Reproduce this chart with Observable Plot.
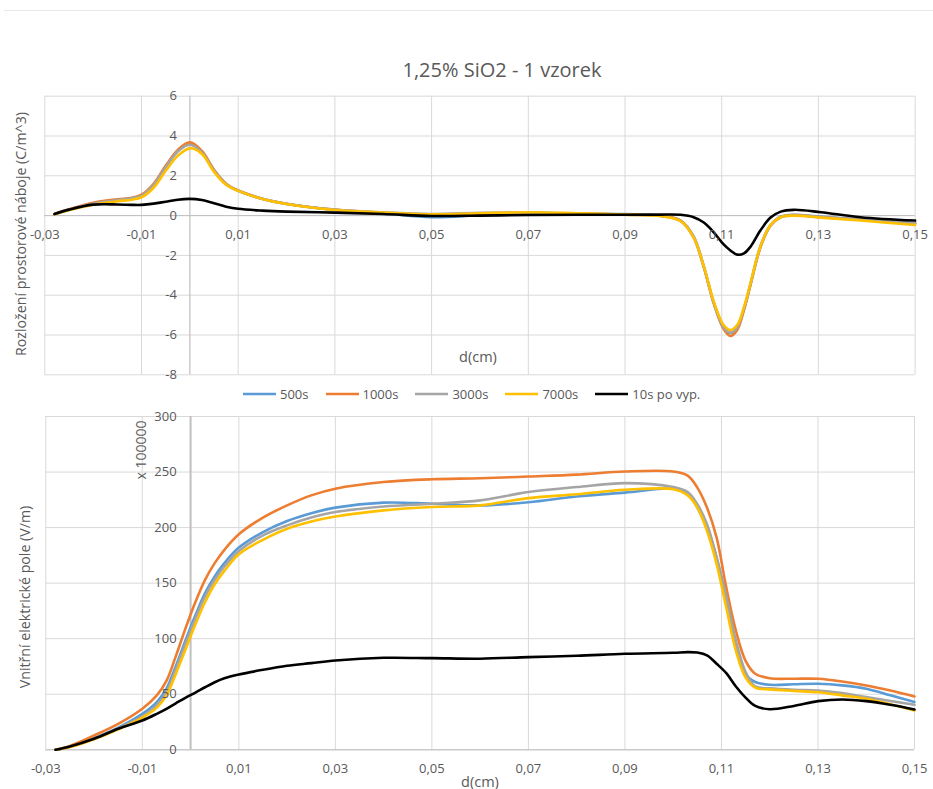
<!DOCTYPE html>
<html><head><meta charset="utf-8">
<script src="https://cdn.jsdelivr.net/npm/d3@7"></script>
<script src="https://cdn.jsdelivr.net/npm/@observablehq/plot@0.6"></script>
<style>
body{margin:0;background:#fff;font-family:"Open Sans",sans-serif;color:#595959}
#wrap{position:relative;width:933px;height:789px;overflow:hidden;background:#fff}
.abs{position:absolute;white-space:nowrap}
.c{transform:translate(-50%,-50%)}
.rot{transform:translate(-50%,-50%) rotate(-90deg)}
#legend{position:absolute;left:243px;top:385px;height:18px;display:flex;align-items:center;gap:17px;font-size:13px}
#legend .it{display:flex;align-items:center}
#legend svg{margin-right:4px}
#topline{position:absolute;left:4px;right:0;top:10px;height:1px;background:#e8e8e8}
</style></head><body><div id="wrap">
<div id="topline"></div>
<div class="abs c" style="left:502px;top:69px;font-size:20px">1,25% SiO2 - 1 vzorek</div>
<div id="chartTop" class="abs" style="left:0;top:90px"></div>
<div id="chartBot" class="abs" style="left:0;top:405px"></div>
<div class="abs rot" style="left:20px;top:234px;font-size:14.2px">Rozložení prostorové náboje (C/m^3)</div>
<div class="abs c" style="left:478px;top:356px;font-size:14.5px">d(cm)</div>
<div class="abs rot" style="left:24px;top:597px;font-size:14.2px">Vnitřní elektrické pole (V/m)</div>
<div class="abs rot" style="left:140px;top:450px;font-size:14px">x 100000</div>
<div class="abs c" style="left:480px;top:781px;font-size:14.5px">d(cm)</div>
<div id="legend"></div>
</div>
<script>
// ---- series ----
const seriesNames = ["500s", "1000s", "3000s", "7000s", "10s po vyp."];
const seriesColors = ["#5B9BD5", "#ED7D31", "#A5A5A5", "#FFC000", "#000000"];

// ---- top chart: space charge (C/m^3) ----
const xTop = [-0.028, -0.025, -0.02, -0.015, -0.012, -0.01, -0.0075, -0.005, -0.0025, 0, 0.0025, 0.005, 0.0075, 0.01, 0.015, 0.02, 0.03, 0.04, 0.05, 0.06, 0.07, 0.08, 0.09, 0.0973, 0.1015, 0.1042, 0.1063, 0.1084, 0.1104, 0.1118, 0.1132, 0.1146, 0.116, 0.118, 0.1201, 0.1222, 0.1249, 0.1305, 0.1387, 0.15];
const top500  = [0.08, 0.3, 0.62, 0.78, 0.87, 1.0, 1.55, 2.45, 3.25, 3.6, 3.2, 2.28, 1.58, 1.25, 0.84, 0.58, 0.28, 0.12, -0.08, 0.02, 0.12, 0.1, 0.08, 0.0, -0.25, -1.05, -2.55, -4.4, -5.62, -5.9, -5.65, -4.7, -3.4, -1.55, -0.48, -0.06, 0.04, -0.06, -0.18, -0.38];
const top1000 = [0.08, 0.32, 0.65, 0.82, 0.9, 1.05, 1.6, 2.5, 3.3, 3.68, 3.25, 2.3, 1.6, 1.26, 0.85, 0.6, 0.3, 0.15, 0.05, 0.1, 0.14, 0.1, 0.05, 0.0, -0.25, -1.1, -2.6, -4.45, -5.7, -6.05, -5.75, -4.75, -3.45, -1.6, -0.5, -0.08, 0.03, -0.08, -0.2, -0.4];
const top3000 = [0.08, 0.3, 0.6, 0.78, 0.87, 1.0, 1.55, 2.42, 3.22, 3.56, 3.18, 2.27, 1.58, 1.25, 0.85, 0.6, 0.3, 0.16, 0.08, 0.14, 0.15, 0.1, 0.04, -0.02, -0.27, -1.1, -2.58, -4.42, -5.62, -5.88, -5.62, -4.68, -3.4, -1.58, -0.5, -0.08, 0.02, -0.08, -0.2, -0.4];
const top7000 = [0.07, 0.27, 0.55, 0.72, 0.8, 0.92, 1.4, 2.25, 3.0, 3.38, 3.1, 2.2, 1.55, 1.24, 0.84, 0.58, 0.28, 0.15, 0.06, 0.12, 0.17, 0.12, 0.05, -0.02, -0.28, -1.1, -2.55, -4.35, -5.5, -5.75, -5.5, -4.6, -3.35, -1.55, -0.48, -0.08, 0.0, -0.1, -0.25, -0.47];
const top10s  = [0.08, 0.3, 0.55, 0.56, 0.54, 0.54, 0.6, 0.7, 0.8, 0.84, 0.78, 0.62, 0.45, 0.34, 0.25, 0.2, 0.15, 0.08, -0.02, 0.0, 0.03, 0.04, 0.04, 0.05, 0.04, -0.08, -0.35, -0.85, -1.45, -1.75, -1.96, -1.9, -1.55, -0.75, -0.1, 0.2, 0.29, 0.17, -0.08, -0.25];
const topTicksX = [-0.03, -0.01, 0.01, 0.03, 0.05, 0.07, 0.09, 0.11, 0.13, 0.15];
const topTicksY = [-8, -6, -4, -2, 0, 2, 4, 6];

// ---- bottom chart: electric field (V/m, x 100000) ----
const xBot = [-0.028, -0.025, -0.02, -0.015, -0.01, -0.007, -0.005, -0.003, -0.001, 0.001, 0.003, 0.005, 0.007, 0.01, 0.015, 0.02, 0.025, 0.03, 0.04, 0.05, 0.06, 0.07, 0.08, 0.09, 0.1, 0.103, 0.105, 0.107, 0.109, 0.111, 0.113, 0.115, 0.117, 0.12, 0.125, 0.13, 0.135, 0.14, 0.145, 0.15];
const bot500  = [0, 3, 10.5, 20, 32.4, 43, 55, 76, 99, 121, 141, 156, 168, 182, 196, 206, 213, 218, 222.5, 221.5, 220, 222.8, 228, 231.5, 235, 231, 218, 200, 173, 134, 95, 68, 61, 58.5, 59, 59.4, 58, 55, 49, 43];
const bot1000 = [0, 3.5, 12.9, 23.4, 37, 49, 62, 85, 110, 133, 153, 168, 180, 194, 209, 220, 229, 235, 241, 243.5, 244.4, 246, 247.7, 250.5, 250.5, 246.8, 236, 218, 191, 146, 107, 80, 68.4, 64.4, 64, 63.9, 61.5, 57.9, 53.3, 48];
const bot3000 = [0, 2.8, 10, 19, 30, 40, 52, 73, 96, 118, 138, 153, 165, 179, 193, 202, 209, 214, 219, 221.5, 224.5, 232, 236.5, 240, 236.5, 232, 221, 203, 173, 138, 98, 70, 57, 55.3, 54, 53.4, 51, 47.4, 44, 40.5];
const bot7000 = [0, 2.5, 9.5, 18.5, 29, 38, 49, 69, 91, 113, 133, 149, 161, 176, 189, 199, 205.5, 210, 215.5, 218.5, 220, 226.5, 230, 234, 234.5, 229, 218, 197, 167, 128, 89, 65, 56, 54.4, 53, 51.8, 49, 46, 41, 35.4];
const bot10s  = [0, 3, 9.9, 18.9, 26.4, 32.4, 36.9, 42, 47, 51.5, 56.3, 60.8, 64.4, 67.8, 72, 75.6, 78, 80.4, 82.8, 82.5, 82, 83.4, 84.6, 86.4, 87.3, 87.9, 87.5, 85, 77.5, 69, 57, 47, 39.5, 36.5, 39.5, 43.8, 45.3, 43.8, 40.5, 36.3];
const botTicksX = [-0.03, -0.01, 0.01, 0.03, 0.05, 0.07, 0.09, 0.11, 0.13, 0.15];
const botTicksY = [0, 50, 100, 150, 200, 250, 300];

function tidy(xs, arrays) {
  const out = [];
  arrays.forEach((arr, i) => arr.forEach((v, j) => out.push({x: xs[j], y: v, s: seriesNames[i]})));
  return out;
}
const topData = tidy(xTop, [top500, top1000, top3000, top7000, top10s]);
const botData = tidy(xBot, [bot500, bot1000, bot3000, bot7000, bot10s]);
const fmtX = d => d.toFixed(2).replace(".", ",");
const grid = "#d9d9d9", axisC = "#bfbfbf", txt = "#595959";

function chart(data, ticksX, ticksY, opts) {
  return Plot.plot({
    width: 933, height: opts.height,
    marginTop: opts.mt, marginBottom: opts.mb, marginLeft: opts.ml, marginRight: opts.mr,
    x: {domain: [-0.03, 0.15], axis: null},
    y: {domain: opts.yDomain, axis: null},
    color: {domain: seriesNames, range: seriesColors},
    style: {fontFamily: "Open Sans, sans-serif", fontSize: "13px", color: txt, background: "transparent", overflow: "visible"},
    marks: [
      Plot.ruleX(ticksX, {x: d => d, stroke: grid, strokeWidth: 1}),
      Plot.ruleY(ticksY, {y: d => d, stroke: grid, strokeWidth: 1}),
      Plot.ruleX([0], {x: d => d, stroke: axisC, strokeWidth: opts.axisW}),
      Plot.ruleY([0], {y: d => d, stroke: axisC, strokeWidth: 1}),
      Plot.line(data, {x: "x", y: "y", z: "s", stroke: "s", curve: "catmull-rom", strokeWidth: 2.6, strokeLinejoin: "round", strokeLinecap: "round"}),
      Plot.text(ticksX, {x: d => d, y: d => 0, dy: 19, text: fmtX, fill: txt}),
      Plot.text(ticksY, {x: d => 0, y: d => d, dx: opts.ydx, textAnchor: "end", text: d => String(d), fill: txt})
    ]
  });
}

document.getElementById("chartTop").appendChild(chart(topData, topTicksX, topTicksY,
  {height: 290, mt: 5.7, mb: 5.7, ml: 44.3, mr: 18.4, yDomain: [-8, 6], ydx: -13, axisW: 1.2}));
document.getElementById("chartBot").appendChild(chart(botData, botTicksX, botTicksY,
  {height: 375, mt: 11, mb: 30.7, ml: 45.3, mr: 19, yDomain: [0, 300], ydx: -14, axisW: 2}));

// legend
const lg = document.getElementById("legend");
seriesNames.forEach((n, i) => {
  const it = document.createElement("div");
  it.className = "it";
  it.innerHTML = `<svg width="33" height="6"><line x1="0" y1="3" x2="33" y2="3" stroke="${seriesColors[i]}" stroke-width="2.6"/></svg><span>${n}</span>`;
  lg.appendChild(it);
});
</script>
</body></html>
